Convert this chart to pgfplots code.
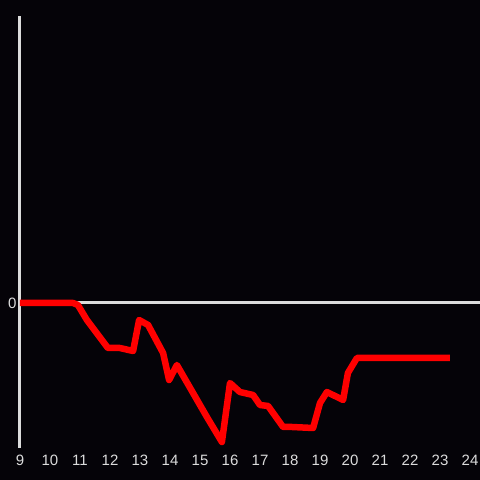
\documentclass[border=0pt]{standalone}
\usepackage{pgfplots}
\pgfplotsset{compat=1.18}
\usepackage{fontspec}
\setmainfont{Liberation Sans}
\definecolor{bg}{RGB}{5,3,8}
\definecolor{axisgray}{RGB}{220,220,220}
\definecolor{linered}{RGB}{255,0,0}
\begin{document}
\begin{tikzpicture}[x=1pt,y=1pt]
\fill[bg] (0,0) rectangle (480,480);
\begin{axis}[
  at={(20pt,32pt)}, anchor=south west,
  scale only axis, width=460pt, height=432pt,
  xmin=9, xmax=24.333, ymin=-145, ymax=287,
  axis x line*=bottom, axis y line*=left,
  x axis line style={draw=none},
  y axis line style={axisgray, line width=3pt, -},
  xtick={9,...,24}, ytick={0},
  major tick length=0pt,
  tick label style={text=axisgray, font=\fontsize{15}{18}\selectfont},
  xticklabel style={anchor=base, yshift=-17.5pt},
  yticklabel style={anchor=base east, yshift=-5.5pt},
  /pgf/number format/assume math mode=true,
  clip=false,
]
\addplot[axisgray, line width=3pt] coordinates {(9,0) (24.333,0)};
\addplot[linered, line width=6.5pt, line join=round] coordinates {
(9,0) (10.77,0) (10.93,-2) (11.23,-17) (11.93,-45) (12.33,-45)
(12.77,-48) (12.97,-17) (13.27,-22) (13.77,-50) (13.97,-77)
(14.23,-62) (15.23,-114) (15.73,-139) (16.0,-80) (16.33,-89)
(16.77,-92) (17.0,-102) (17.27,-103) (17.77,-124) (18.07,-124)
(18.77,-125) (19.0,-100) (19.23,-89) (19.77,-97) (19.93,-70)
(20.23,-55) (23.33,-55)
};
\end{axis}
\pgfresetboundingbox
\useasboundingbox (0,0) rectangle (480,480);
\end{tikzpicture}
\end{document}
